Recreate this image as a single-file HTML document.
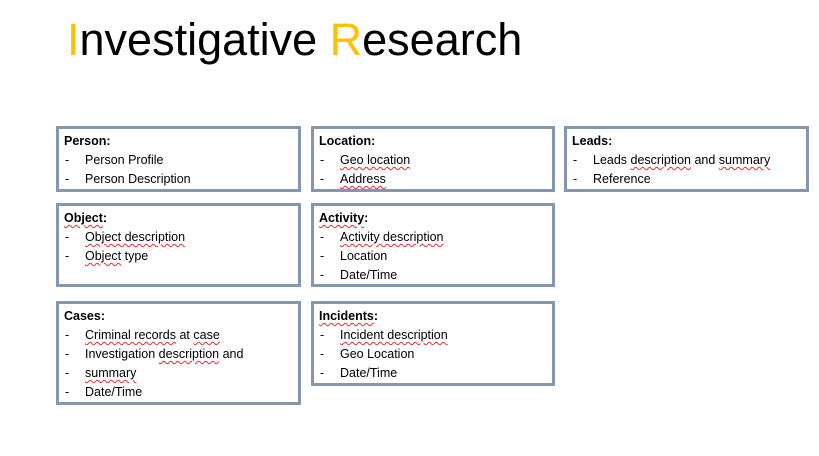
<!DOCTYPE html>
<html><head><style>
body{margin:0;width:819px;height:456px;background:#fff;position:relative;overflow:hidden;font-family:"Liberation Sans",sans-serif;}
.t{position:absolute;left:67px;top:14px;font-size:45px;color:#000;white-space:nowrap;}
.t span{color:#ffc000}
.b{position:absolute;border:3px solid #8497b0;box-sizing:border-box;font-size:12.5px;line-height:19px;padding:3px 0 0 5px;color:#000}
.b b{display:block;height:19px}
.l{position:relative;padding-left:21px;white-space:nowrap;height:19px;line-height:19px}
.l:before{content:"-";position:absolute;left:1px}
.w{text-decoration:underline wavy #e03030;text-decoration-thickness:1px;text-underline-offset:2px}
</style></head><body>
<div class="t"><span>I</span>nvestigative <span>R</span>esearch</div>
<div class="b" style="left:56px;top:126px;width:245px;height:66px"><b>Person:</b><div class="l">Person Profile</div><div class="l">Person Description</div></div>
<div class="b" style="left:56px;top:203px;width:245px;height:84px"><b><span class="w">Object</span>:</b><div class="l"><span class="w">Object description</span></div><div class="l"><span class="w">Object</span> type</div></div>
<div class="b" style="left:56px;top:301px;width:245px;height:104px"><b>Cases:</b><div class="l"><span class="w">Criminal records</span> at <span class="w">case</span></div><div class="l">Investigation <span class="w">description</span> and</div><div class="l"><span class="w">summary</span></div><div class="l">Date/Time</div></div>
<div class="b" style="left:311px;top:126px;width:244px;height:66px"><b>Location:</b><div class="l"><span class="w">Geo location</span></div><div class="l"><span class="w">Address</span></div></div>
<div class="b" style="left:311px;top:203px;width:244px;height:84px"><b><span class="w">Activity</span>:</b><div class="l"><span class="w">Activity description</span></div><div class="l">Location</div><div class="l">Date/Time</div></div>
<div class="b" style="left:311px;top:301px;width:244px;height:85px"><b><span class="w">Incidents</span>:</b><div class="l"><span class="w">Incident description</span></div><div class="l">Geo Location</div><div class="l">Date/Time</div></div>
<div class="b" style="left:564px;top:126px;width:245px;height:66px"><b>Leads:</b><div class="l">Leads <span class="w">description</span> and <span class="w">summary</span></div><div class="l">Reference</div></div>
</body></html>
